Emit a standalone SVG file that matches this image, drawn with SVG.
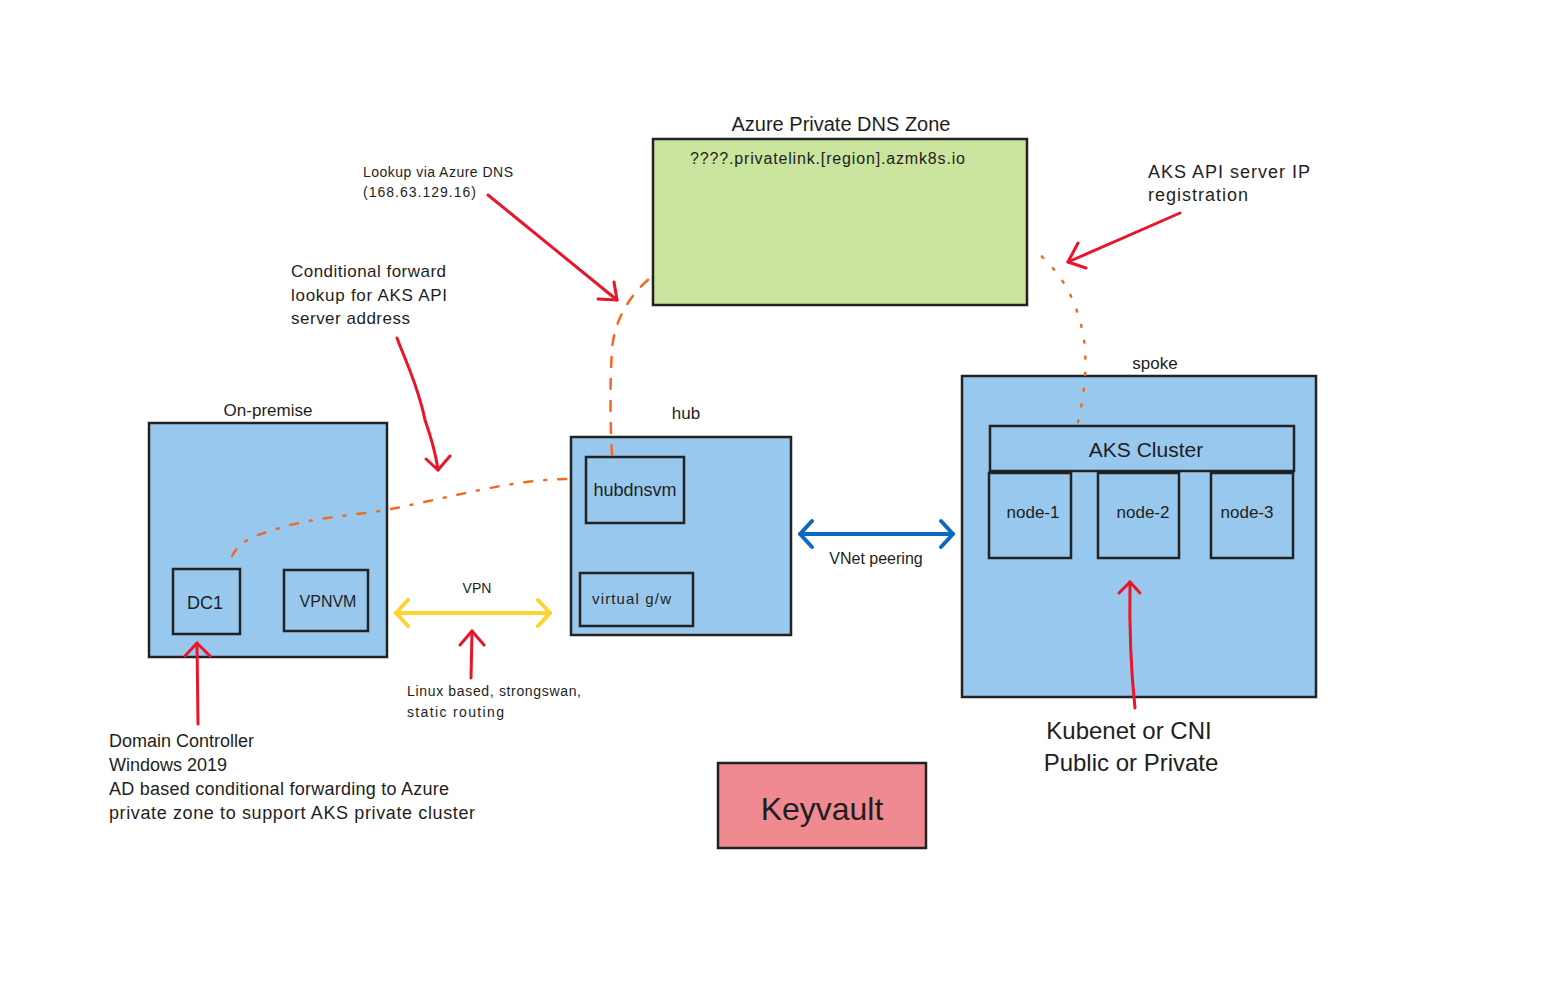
<svg xmlns="http://www.w3.org/2000/svg" width="1545" height="989" viewBox="0 0 1545 989">
<defs>
<style>
.t{font-family:"Liberation Sans","DejaVu Sans",sans-serif;fill:#1e1e1e}
.box{fill:#99c8ee;stroke:#222;stroke-width:2.5}
.red{fill:none;stroke:#e8152b;stroke-width:3;stroke-linecap:round;stroke-linejoin:round}
.or{fill:none;stroke:#f26a22;stroke-width:2.5;stroke-linecap:round}
</style>
</defs>
<rect width="1545" height="989" fill="#fff"/>

<g id="dnszone">
<rect x="653" y="139" width="374" height="166" fill="#cbe49e" stroke="#222" stroke-width="2.5"/>
<text class="t" x="841" y="131" font-size="20" text-anchor="middle">Azure Private DNS Zone</text>
<text class="t" x="690" y="164" font-size="16" textLength="275">????.privatelink.[region].azmk8s.io</text>
</g>

<g id="onprem">
<rect class="box" x="149" y="423" width="238" height="234"/>
<text class="t" x="268" y="416" font-size="17" text-anchor="middle">On-premise</text>
</g>
<g id="dc1">
<rect class="box" x="173" y="569" width="67" height="65"/>
<text class="t" x="205" y="609" font-size="18" text-anchor="middle">DC1</text>
</g>
<g id="vpnvm">
<rect class="box" x="284" y="570" width="84" height="61"/>
<text class="t" x="328" y="607" font-size="16" text-anchor="middle">VPNVM</text>
</g>

<g id="hub">
<rect class="box" x="571" y="437" width="220" height="198"/>
<text class="t" x="686" y="419" font-size="17" text-anchor="middle">hub</text>
</g>
<g id="hubdnsvm">
<rect class="box" x="586" y="457" width="98" height="66"/>
<text class="t" x="635" y="496" font-size="18" text-anchor="middle">hubdnsvm</text>
</g>
<g id="vgw">
<rect class="box" x="580" y="573" width="113" height="53"/>
<text class="t" x="592" y="604" font-size="15" textLength="79">virtual g/w</text>
</g>

<g id="spoke">
<rect class="box" x="962" y="376" width="354" height="321"/>
<text class="t" x="1155" y="369" font-size="17" text-anchor="middle">spoke</text>
</g>
<g id="akscluster">
<rect class="box" x="990" y="426" width="304" height="45"/>
<text class="t" x="1146" y="457" font-size="21" text-anchor="middle">AKS Cluster</text>
</g>
<g id="node1">
<rect class="box" x="989" y="473" width="82" height="85"/>
<text class="t" x="1033" y="518" font-size="17" text-anchor="middle">node-1</text>
</g>
<g id="node2">
<rect class="box" x="1098" y="473" width="81" height="85"/>
<text class="t" x="1143" y="518" font-size="17" text-anchor="middle">node-2</text>
</g>
<g id="node3">
<rect class="box" x="1211" y="473" width="82" height="85"/>
<text class="t" x="1247" y="518" font-size="17" text-anchor="middle">node-3</text>
</g>

<g id="keyvault">
<rect x="718" y="763" width="208" height="85" fill="#f08a91" stroke="#222" stroke-width="2.5"/>
<text class="t" x="822" y="820" font-size="32" text-anchor="middle">Keyvault</text>
</g>

<g id="labels">
<text class="t" x="363" y="177" font-size="14" textLength="150">Lookup via Azure DNS</text>
<text class="t" x="363" y="197" font-size="14" textLength="113">(168.63.129.16)</text>
<text class="t" font-size="17"><tspan x="291" y="277" textLength="155">Conditional forward</tspan><tspan x="291" y="301" textLength="156">lookup for AKS API</tspan><tspan x="291" y="324" textLength="119">server address</tspan></text>
<text class="t" font-size="18"><tspan x="1148" y="178" textLength="162">AKS API server IP</tspan><tspan x="1148" y="201" textLength="100">registration</tspan></text>
<text class="t" x="477" y="593" font-size="14" text-anchor="middle">VPN</text>
<text class="t" font-size="14"><tspan x="407" y="696" textLength="174">Linux based, strongswan,</tspan><tspan x="407" y="717" textLength="97">static routing</tspan></text>
<text class="t" x="876" y="564" font-size="16" text-anchor="middle">VNet peering</text>
<text class="t" font-size="18"><tspan x="109" y="747">Domain Controller</tspan><tspan x="109" y="771">Windows 2019</tspan><tspan x="109" y="795" textLength="340">AD based conditional forwarding to Azure</tspan><tspan x="109" y="819" textLength="366">private zone to support AKS private cluster</tspan></text>
<text class="t" font-size="24" text-anchor="middle"><tspan x="1129" y="739">Kubenet or CNI</tspan><tspan x="1131" y="771">Public or Private</tspan></text>
</g>

<g id="connectors">
<path class="or" d="M612,455 C610,420 610,380 612,350 C614,320 630,295 650,278" stroke-dasharray="10 12"/>
<path class="or" d="M232,556 C240,540 255,535 290,525 C330,515 370,515 410,505 C460,495 520,478 575,479" stroke-dasharray="8 12 2 12"/>
<path class="or" d="M1078,422 C1083,400 1088,370 1084,340 C1078,300 1060,270 1032,248" stroke-dasharray="2 14"/>

<path class="red" d="M488,195 L617,300"/>
<path class="red" d="M598,299 L617,300 L614,282"/>
<path class="red" d="M1180,213 L1068,262"/>
<path class="red" d="M1078,243 L1068,262 L1086,268"/>
<path class="red" d="M397,338 C405,360 418,385 425,420 C432,440 436,455 438,470"/>
<path class="red" d="M426,459 L438,470 L450,456"/>
<path class="red" d="M198,724 L197,643"/>
<path class="red" d="M185,656 L197,643 L210,656"/>
<path class="red" d="M471,678 L472,631"/>
<path class="red" d="M460,645 L472,631 L484,645"/>
<path class="red" d="M1135,708 C1132,680 1129,640 1130,582"/>
<path class="red" d="M1119,593 L1130,582 L1140,593"/>

<path d="M396,613 L550,613" fill="none" stroke="#fdd433" stroke-width="4" stroke-linecap="round"/>
<path d="M408,600 L396,613 L408,626 M538,600 L550,613 L538,626" fill="none" stroke="#fdd433" stroke-width="4" stroke-linecap="round" stroke-linejoin="round"/>

<path d="M800,534 L953,534" fill="none" stroke="#0b69c0" stroke-width="4" stroke-linecap="round"/>
<path d="M812,521 L800,534 L812,547 M941,521 L953,534 L941,547" fill="none" stroke="#0b69c0" stroke-width="4" stroke-linecap="round" stroke-linejoin="round"/>
</g>
</svg>
